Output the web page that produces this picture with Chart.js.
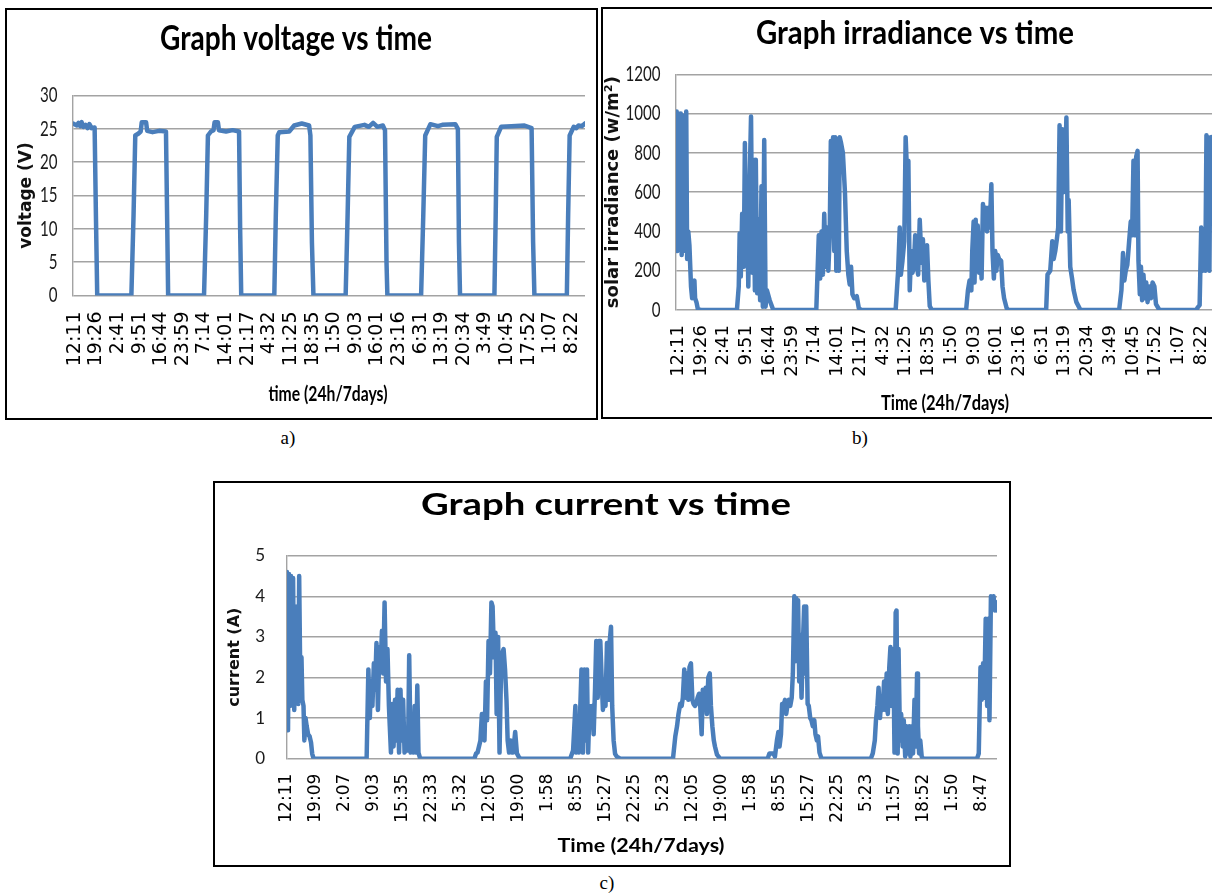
<!DOCTYPE html>
<html>
<head>
<meta charset="utf-8">
<script src="https://cdn.jsdelivr.net/npm/chart.js@4.4.1/dist/chart.umd.min.js"></script>
<style>
    html, body { margin: 0; padding: 0; background: #fff; overflow: hidden; width: 1212px; height: 894px; }
    .box { position: absolute; border: 2px solid #000; background: #fff; }
    .box canvas { display: block; }
    .cap { position: absolute; font-family: 'Liberation Serif', serif; font-size: 19px; color: #000; transform: translate(-50%, -50%); }
</style>
</head>
<body>
<div class="box" style="left:5px;top:8px;"><canvas id="voltage-canvas" width="589" height="408"></canvas></div>
<div class="box" style="left:601px;top:7px;"><canvas id="irradiance-canvas" width="626" height="408"></canvas></div>
<div class="box" style="left:213px;top:481px;"><canvas id="current-canvas" width="794" height="382"></canvas></div>
<div class="cap" style="left:288px;top:438px;">a)</div>
<div class="cap" style="left:860px;top:438px;">b)</div>
<div class="cap" style="left:607px;top:883px;">c)</div>
<script>
// tick labels (one per category slot, the data positions below are in slot units)
const labelsAB = ['12:11', '19:26', '2:41', '9:51', '16:44', '23:59', '7:14', '14:01', '21:17', '4:32', '11:25', '18:35',
    '1:50', '9:03', '16:01', '23:16', '6:31', '13:19', '20:34', '3:49', '10:45', '17:52', '1:07', '8:22'];
const labelsC = ['12:11', '19:09', '2:07', '9:03', '15:35', '22:33', '5:32', '12:05', '19:00', '1:58', '8:55', '15:27', '22:25',
    '5:23', '12:05', '19:00', '1:58', '8:55', '15:27', '22:25', '5:23', '11:57', '18:52', '1:50', '8:47'];

// [slot, volts]
const voltageData = [
    [-0.08, 25.8], [0.1, 25.5], [0.18, 25.9], [0.25, 25.4], [0.32, 26.0], [0.4, 25.3], [0.5, 25.6], [0.6, 25.1], [0.68, 25.7], [0.78, 25.1], [0.92, 25.2], [0.98, 12], [1.04, 0],
    [2.62, 0], [2.72, 12], [2.8, 24], [2.95, 24.3], [3.05, 24.6], [3.1, 26], [3.3, 26], [3.35, 24.7], [3.6, 24.5], [3.9, 24.7], [4.22, 24.6], [4.28, 10], [4.32, 0],
    [5.98, 0], [6.08, 12], [6.16, 24], [6.3, 24.6], [6.42, 24.8], [6.47, 26], [6.62, 26], [6.67, 24.8], [7.0, 24.6], [7.3, 24.8], [7.6, 24.6], [7.65, 10], [7.7, 0],
    [9.23, 0], [9.3, 12], [9.39, 24], [9.46, 24.5], [9.92, 24.6], [10.15, 25.5], [10.5, 25.8], [10.84, 25.5], [10.9, 24], [10.97, 8], [11.04, 0],
    [12.53, 0], [12.62, 12], [12.7, 23.8], [12.95, 25.3], [13.4, 25.6], [13.6, 25.3], [13.8, 25.9], [14.0, 25.3], [14.25, 25.5], [14.35, 24.8], [14.42, 5], [14.46, 0],
    [16.02, 0], [16.12, 12], [16.21, 24], [16.45, 25.7], [16.8, 25.4], [17.0, 25.6], [17.6, 25.7], [17.72, 25], [17.77, 8], [17.82, 0],
    [19.41, 0], [19.47, 12], [19.52, 23.8], [19.72, 25.3], [20.2, 25.4], [20.8, 25.5], [21.13, 25.1], [21.2, 8], [21.26, 0],
    [22.76, 0], [22.82, 12], [22.89, 24], [23.08, 25.3], [23.2, 25.1], [23.3, 25.5], [23.45, 25.4], [23.6, 25.8]
];

// [slot, W/m2]
const irradianceData = [
    [-0.1, 700], [-0.07, 1010], [-0.04, 300], [0, 1000], [0.05, 320], [0.11, 1000], [0.15, 280], [0.2, 960], [0.23, 320], [0.27, 990], [0.32, 300], [0.35, 1010],
    [0.39, 260], [0.44, 400], [0.49, 330], [0.56, 120], [0.61, 60], [0.65, 140], [0.71, 150], [0.74, 60], [0.8, 40], [0.86, 5], [0.99, 0],
    [2.58, 0], [2.66, 120], [2.7, 390], [2.75, 170], [2.81, 490], [2.88, 220], [2.93, 850], [2.99, 255], [3.03, 525], [3.08, 120], [3.14, 660], [3.2, 985], [3.26, 190],
    [3.31, 765], [3.37, 100], [3.41, 765], [3.47, 85], [3.54, 460], [3.6, 50], [3.66, 630], [3.72, 17], [3.78, 865], [3.84, 17], [3.9, 100], [4.02, 50], [4.17, 3], [4.25, 0],
    [6.07, 0], [6.18, 380], [6.24, 160], [6.3, 400], [6.36, 180], [6.42, 490], [6.48, 220], [6.54, 420], [6.6, 200], [6.66, 380], [6.71, 860], [6.75, 500], [6.81, 880],
    [6.86, 300], [6.9, 880], [6.95, 200], [7.0, 870], [7.06, 200], [7.1, 880], [7.16, 850], [7.24, 800], [7.33, 600], [7.41, 300], [7.48, 180], [7.54, 130], [7.6, 220],
    [7.66, 80], [7.74, 60], [7.85, 70], [7.94, 10], [8.04, 0],
    [9.56, 0], [9.67, 200], [9.74, 420], [9.79, 180], [9.86, 250], [9.94, 350], [10.0, 880], [10.06, 700], [10.12, 760], [10.18, 100], [10.24, 300], [10.3, 190],
    [10.36, 220], [10.42, 380], [10.49, 230], [10.55, 180], [10.62, 460], [10.7, 240], [10.76, 360], [10.82, 150], [10.88, 280], [10.94, 330], [11.0, 150], [11.06, 20], [11.15, 0],
    [12.66, 0], [12.74, 100], [12.81, 150], [12.89, 100], [12.93, 300], [12.99, 450], [13.03, 140], [13.08, 460], [13.12, 200], [13.17, 430], [13.23, 190], [13.29, 320],
    [13.34, 160], [13.4, 540], [13.46, 420], [13.52, 520], [13.58, 400], [13.64, 520], [13.7, 420], [13.77, 640], [13.82, 300], [13.88, 160], [13.94, 300], [13.99, 200],
    [14.05, 280], [14.11, 260], [14.2, 250], [14.26, 120], [14.33, 60], [14.44, 10], [14.51, 0],
    [16.18, 0], [16.24, 180], [16.36, 200], [16.45, 350], [16.51, 260], [16.58, 300], [16.65, 360], [16.71, 420], [16.77, 940], [16.83, 400], [16.89, 920], [16.95, 600],
    [17.01, 700], [17.07, 980], [17.13, 400], [17.17, 560], [17.24, 220], [17.32, 160], [17.39, 100], [17.51, 40], [17.69, 0],
    [19.39, 0], [19.49, 100], [19.56, 290], [19.62, 150], [19.68, 200], [19.75, 230], [19.83, 350], [19.9, 450], [19.96, 380], [20.02, 760], [20.08, 380], [20.14, 780],
    [20.2, 810], [20.24, 250], [20.3, 80], [20.35, 220], [20.4, 50], [20.46, 180], [20.52, 60], [20.58, 140], [20.64, 40], [20.71, 120], [20.79, 60], [20.86, 140],
    [20.94, 120], [21.01, 30], [21.16, 0],
    [22.78, 0], [22.86, 15], [22.93, 25], [23.0, 420], [23.06, 200], [23.12, 410], [23.18, 200], [23.23, 890], [23.27, 700], [23.31, 880], [23.36, 200], [23.4, 860],
    [23.45, 880], [23.51, 850], [23.6, 870], [23.7, 860]
];

// [slot, amps]
const currentData = [
    [0, 4.6], [0.035, 0.7], [0.07, 4.55], [0.106, 1.3], [0.14, 4.5], [0.18, 2.1], [0.21, 4.45], [0.25, 1.2], [0.28, 3.75], [0.32, 1.45], [0.35, 3.75], [0.39, 1.35],
    [0.42, 4.5], [0.46, 1.85], [0.5, 2.5], [0.53, 1.45], [0.57, 1.3], [0.6, 0.45], [0.64, 1.0], [0.68, 0.8], [0.73, 0.6], [0.78, 0.55], [0.83, 0.4], [0.87, 0.12], [0.92, 0],
    [2.75, 0], [2.81, 2.2], [2.86, 1.0], [2.9, 1.9], [2.95, 1.3], [3.0, 2.35], [3.04, 1.7], [3.09, 2.85], [3.14, 1.2], [3.19, 2.75], [3.23, 2.25], [3.28, 3.15],
    [3.32, 2.1], [3.37, 3.85], [3.42, 1.9], [3.47, 2.7], [3.52, 1.3], [3.55, 0.8], [3.59, 0.15], [3.63, 1.35], [3.68, 0.3], [3.73, 1.45], [3.78, 0.45], [3.82, 1.7],
    [3.87, 0.15], [3.92, 1.7], [3.96, 0.45], [4.01, 1.45], [4.06, 0.15], [4.13, 0.4], [4.18, 0.2], [4.22, 2.55], [4.27, 0.15], [4.32, 1.1], [4.37, 0.15], [4.41, 1.3],
    [4.46, 0.15], [4.5, 1.8], [4.54, 0.15], [4.6, 0],
    [6.47, 0], [6.53, 0.13], [6.58, 0.15], [6.68, 0.45], [6.73, 1.1], [6.77, 1.1], [6.82, 0.45], [6.87, 1.9], [6.91, 0.95], [6.96, 2.9], [7.01, 2.1], [7.06, 3.85],
    [7.1, 3.75], [7.15, 2.5], [7.2, 3.1], [7.24, 1.1], [7.29, 3.0], [7.34, 0.15], [7.39, 2.1], [7.43, 2.6], [7.48, 2.7], [7.53, 2.2], [7.58, 1.45], [7.62, 0.45],
    [7.67, 0.15], [7.72, 0.45], [7.76, 0.15], [7.81, 0.15], [7.88, 0.66], [7.94, 0.13], [8.0, 0.05], [8.06, 0],
    [9.78, 0], [9.88, 0.2], [9.96, 1.3], [9.99, 0.15], [10.04, 0.8], [10.08, 0.15], [10.13, 1.3], [10.17, 2.2], [10.22, 0.15], [10.27, 2.2], [10.31, 0.45], [10.36, 2.2],
    [10.4, 0.15], [10.45, 1.3], [10.5, 0.8], [10.54, 1.3], [10.59, 0.6], [10.64, 1.75], [10.68, 2.9], [10.73, 1.5], [10.77, 2.9], [10.82, 2.9], [10.87, 1.9], [10.91, 1.2],
    [10.96, 1.9], [11.0, 1.3], [11.05, 2.85], [11.1, 1.45], [11.14, 2.85], [11.19, 3.25], [11.23, 1.3], [11.28, 0.45], [11.33, 0.12], [11.39, 0.05], [11.51, 0],
    [13.33, 0], [13.41, 0.55], [13.47, 0.8], [13.52, 1.1], [13.58, 1.35], [13.63, 1.3], [13.67, 1.5], [13.72, 2.2], [13.77, 1.5], [13.81, 2.1], [13.86, 1.45], [13.9, 2.25],
    [13.95, 2.35], [14.0, 1.45], [14.04, 1.35], [14.09, 1.3], [14.13, 1.35], [14.18, 1.5], [14.23, 1.6], [14.27, 1.3], [14.32, 0.6], [14.36, 1.7], [14.41, 1.3], [14.46, 1.75],
    [14.5, 1.1], [14.55, 2.0], [14.6, 2.1], [14.64, 1.3], [14.69, 0.8], [14.74, 0.45], [14.78, 0.3], [14.85, 0.1], [14.96, 0],
    [16.6, 0], [16.66, 0.13], [16.8, 0.13], [16.85, 0.05], [16.92, 0.45], [16.97, 0.66], [17.01, 0.3], [17.06, 0.6], [17.1, 1.35], [17.15, 1.3], [17.2, 1.45], [17.24, 1.1],
    [17.29, 1.35], [17.33, 1.45], [17.38, 1.3], [17.43, 1.5], [17.47, 2.1], [17.52, 4.0], [17.55, 2.4], [17.59, 3.95], [17.62, 2.9], [17.65, 3.9], [17.69, 1.9], [17.72, 3.05],
    [17.77, 1.5], [17.82, 2.9], [17.86, 3.75], [17.9, 2.1], [17.93, 3.75], [17.98, 1.35], [18.02, 1.3], [18.07, 1.0], [18.11, 0.95], [18.16, 0.8], [18.21, 0.95], [18.25, 0.6],
    [18.3, 0.45], [18.34, 0.55], [18.39, 0.15], [18.46, 0],
    [20.16, 0], [20.23, 0.13], [20.3, 0.45], [20.34, 0.95], [20.39, 1.3], [20.43, 1.75], [20.48, 1.0], [20.52, 1.5], [20.57, 1.2], [20.62, 1.9], [20.66, 1.2], [20.71, 2.1],
    [20.75, 1.1], [20.8, 2.25], [20.84, 2.75], [20.89, 1.3], [20.94, 2.7], [20.98, 0.15], [21.02, 3.6], [21.05, 3.65], [21.09, 0.13], [21.12, 2.7], [21.17, 0.45], [21.21, 1.1],
    [21.26, 0.3], [21.3, 0.95], [21.35, 0.05], [21.39, 0.8], [21.44, 0.13], [21.49, 0.8], [21.53, 0.05], [21.58, 0.8], [21.62, 0.13], [21.67, 1.45], [21.71, 0.3], [21.76, 2.1],
    [21.79, 0.8], [21.83, 0.13], [21.87, 0.45], [21.92, 0.05], [21.97, 0],
    [23.83, 0], [23.89, 0.13], [23.95, 2.25], [23.99, 1.45], [24.04, 2.35], [24.08, 1.5], [24.13, 3.45], [24.18, 1.3], [24.22, 3.45], [24.26, 0.95], [24.31, 4.0],
    [24.36, 3.75], [24.4, 4.0], [24.45, 3.65], [24.5, 3.85], [24.52, 3.65]
];

const lineColour = '#4a7ebb';
const gridColour = '#a3a3a3';

// the source figure was stretched, so titles and y labels are drawn squeezed to the measured widths
const squeezedText = {
    id: 'squeezedText',
    afterDraw(chart, args, opts) {
        const ctx = chart.ctx;
        const area = chart.chartArea;
        ctx.save();
        ctx.fillStyle = '#000';
        [opts.title, opts.xTitle].forEach((t) => {
            ctx.font = t.font;
            ctx.textAlign = 'center';
            ctx.textBaseline = 'alphabetic';
            const s = t.width / ctx.measureText(t.text).width;
            ctx.save();
            ctx.translate(t.x, t.y);
            ctx.scale(s, 1);
            ctx.fillText(t.text, 0, 0);
            ctx.restore();
        });
        const yScale = chart.scales.y;
        ctx.fillStyle = '#1a1a1a';
        ctx.font = opts.yTickFont;
        ctx.textAlign = 'right';
        ctx.textBaseline = 'middle';
        yScale.ticks.forEach((tick) => {
            ctx.save();
            ctx.translate(area.left - opts.yTickPad, yScale.getPixelForValue(tick.value));
            ctx.scale(opts.yTickSqueeze, 1);
            ctx.fillText(String(tick.value), 0, 0);
            ctx.restore();
        });
        ctx.restore();
    }
};

document.addEventListener("DOMContentLoaded", function () {

    function makeChart(canvasId, cfg) {
        const labels = cfg.labels;
        return new Chart(document.getElementById(canvasId), {
            type: 'line',
            data: {
                datasets: [{
                    data: cfg.points.map(p => ({x: p[0], y: p[1]})),
                    borderColor: lineColour,
                    borderWidth: 4.5,
                    pointRadius: 0,
                    tension: 0,
                    fill: false,
                    borderJoinStyle: 'round',
                    borderCapStyle: 'round'
                }]
            },
            plugins: [squeezedText],
            options: {
                responsive: false,
                animation: false,
                devicePixelRatio: 1,
                layout: {padding: {left: 0, right: cfg.padRight, top: cfg.padTop, bottom: 0}},
                plugins: {
                    legend: {display: false},
                    tooltip: {enabled: false},
                    title: {display: false},
                    squeezedText: cfg.text
                },
                scales: {
                    x: {
                        type: 'linear',
                        min: cfg.xMin,
                        max: cfg.xMax,
                        afterBuildTicks: (scale) => {
                            scale.ticks = labels.map((l, i) => ({value: i}));
                        },
                        afterFit: (scale) => {
                            scale.height = cfg.xHeight;
                            scale.paddingLeft = 0;
                            scale.paddingRight = 0;
                        },
                        ticks: {
                            autoSkip: false,
                            minRotation: 90,
                            maxRotation: 90,
                            padding: cfg.xTickPad,
                            color: '#000',
                            font: {family: 'DejaVu Sans', size: cfg.xTickSize},
                            callback: (v, i) => labels[i]
                        },
                        grid: {display: false, drawTicks: false},
                        border: {display: false}
                    },
                    y: {
                        min: 0,
                        max: cfg.yMax,
                        afterFit: (scale) => {
                            scale.width = cfg.yWidth;
                            scale.paddingTop = 0;
                            scale.paddingBottom = 0;
                        },
                        ticks: {stepSize: cfg.yStep, display: false},
                        grid: {color: gridColour, lineWidth: 1.4, drawTicks: false},
                        border: {display: true, color: gridColour, width: 1.4},
                        title: {
                            display: true,
                            text: cfg.yTitle,
                            color: '#111',
                            font: cfg.yTitleFont,
                            padding: {top: cfg.yTitlePad, bottom: 0}
                        }
                    }
                }
            }
        });
    }

    makeChart('voltage-canvas', {
        labels: labelsAB, points: voltageData,
        padTop: 85.5, padRight: 11,
        xMin: -0.08, xMax: 23.6, xHeight: 122.5, xTickPad: 16, xTickSize: 19,
        yMax: 30, yStep: 5, yWidth: 66,
        yTitle: 'voltage (V)', yTitleFont: {family: 'DejaVu Sans', size: 17, weight: 'bold'}, yTitlePad: 9,
        text: {
            title: {text: 'Graph voltage vs time', font: 'bold 34px Lato', width: 272, x: 289, y: 40},
            xTitle: {text: 'time (24h/7days)', font: 'bold 20px Lato', width: 119, x: 321, y: 391},
            yTickFont: '21px Lato', yTickSqueeze: 0.72, yTickPad: 15.4
        }
    });

    makeChart('irradiance-canvas', {
        labels: labelsAB, points: irradianceData,
        padTop: 65.3, padRight: 13,
        xMin: -0.1, xMax: 23.65, xHeight: 107, xTickPad: 15, xTickSize: 18,
        yMax: 1200, yStep: 200, yWidth: 73,
        yTitle: 'solar irradiance (w/m²)', yTitleFont: {family: 'DejaVu Sans', size: 18, weight: 'bold'}, yTitlePad: 0,
        text: {
            title: {text: 'Graph irradiance vs time', font: 'bold 32px Lato', width: 318, x: 312, y: 35},
            xTitle: {text: 'Time (24h/7days)', font: 'bold 20px Lato', width: 128, x: 342, y: 401},
            yTickFont: '21px Lato', yTickSqueeze: 0.72, yTickPad: 15.4
        }
    });

    makeChart('current-canvas', {
        labels: labelsC, points: currentData,
        padTop: 72.7, padRight: 12,
        xMin: 0, xMax: 24.52, xHeight: 106.3, xTickPad: 15, xTickSize: 17,
        yMax: 5, yStep: 1, yWidth: 72,
        yTitle: 'current (A)', yTitleFont: {family: 'DejaVu Sans', size: 16, weight: 'bold'}, yTitlePad: 10,
        text: {
            title: {text: 'Graph current vs time', font: 'bold 31px Lato', width: 370, x: 391, y: 31.5},
            xTitle: {text: 'Time (24h/7days)', font: 'bold 19px Lato', width: 167, x: 426, y: 369},
            yTickFont: '17px Lato', yTickSqueeze: 1, yTickPad: 22
        }
    });
});
</script>
</body>
</html>
